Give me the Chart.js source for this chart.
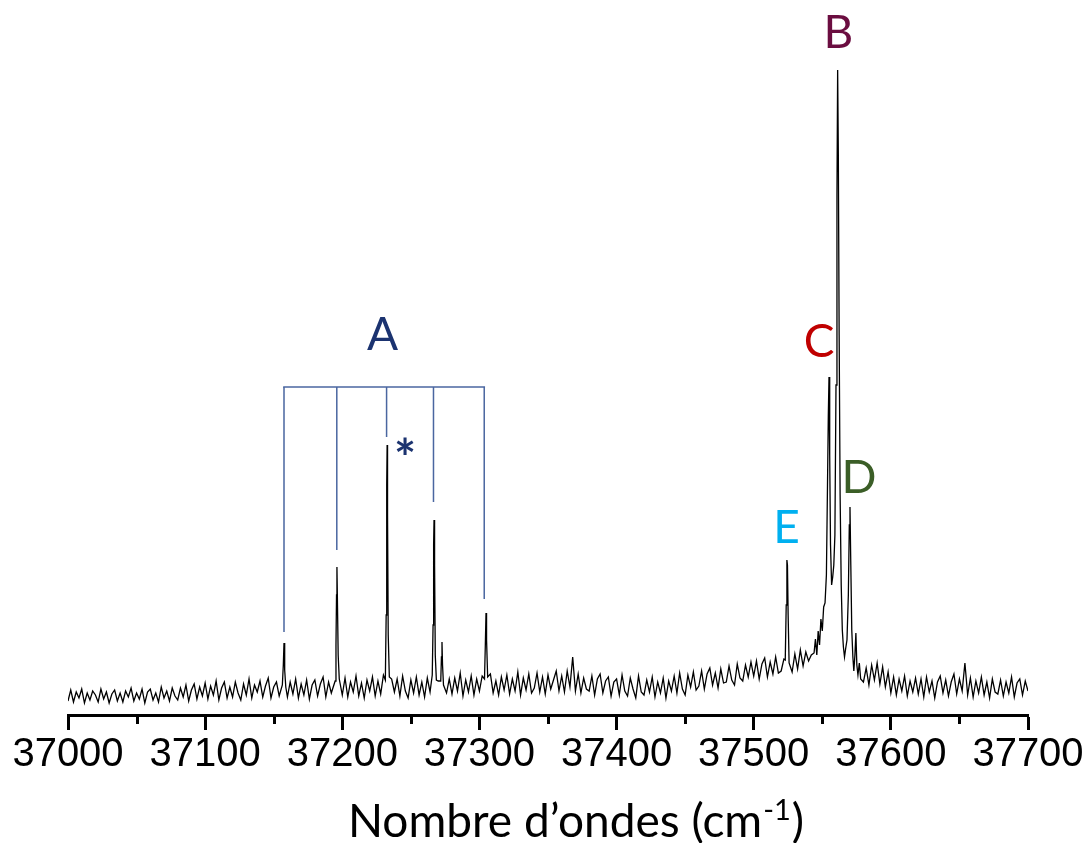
<!DOCTYPE html>
<html>
<head>
<meta charset="utf-8">
<script src="https://cdn.jsdelivr.net/npm/chart.js@4"></script>
<style>
  html, body { margin: 0; padding: 0; background: #fff; }
  #cadre { width: 1086px; height: 843px; position: relative; }
</style>
</head>
<body>
<div id="cadre"><canvas id="spectre"></canvas></div>
<script>
// grille reguliere du fond (cm-1), pas de 2
var baseDebut = 37000;
var basePas = 2;
var baseIntensite = [
  14, 25, 13, 23, 17, 26, 12, 22, 15, 24,
  20, 13, 26, 16, 23, 12, 21, 25, 14, 22,
  13, 24, 18, 27, 14, 22, 16, 26, 12, 23,
  26, 15, 22, 13, 28, 17, 24, 14, 27, 19,
  15, 27, 18, 30, 14, 25, 31, 16, 28, 19,
  32, 16, 29, 20, 34, 15, 27, 33, 17, 28,
  18, 33, 22, 15, 31, 20, 36, 17, 30, 23,
  34, 18, 29, 37, 17, 28, 33, 19, 30, 24,
  18, 33, 21, 36, 17, 31, 20, 35, 16, 30,
  35, 19, 31, 38, 18, 33, 22, 37, 20, 34,
  20, 37, 18, 33, 23, 39, 19, 32, 17, 35,
  24, 38, 19, 34, 21, 40, 22, 18, 36, 23,
  36, 19, 39, 24, 17, 35, 22, 38, 20, 33,
  18, 37, 23, 38, 21, 34, 19, 40, 22, 36,
  21, 37, 24, 42, 19, 35, 23, 39, 20, 36,
  24, 39, 19, 36, 41, 22, 34, 20, 38, 25,
  40, 21, 36, 24, 43, 20, 37, 25, 41, 22,
  27, 42, 23, 38, 21, 40, 26, 35, 44, 24,
  39, 23, 44, 28, 58, 24, 41, 22, 37, 26,
  24, 39, 20, 36, 41, 22, 34, 38, 19, 33,
  36, 20, 40, 24, 19, 37, 26, 17, 39, 23,
  20, 35, 23, 38, 18, 33, 22, 37, 17, 34,
  24, 39, 22, 42, 26, 20, 40, 28, 43, 25,
  29, 44, 26, 41, 47, 30, 42, 27, 46, 32,
  33, 49, 35, 30, 51, 37, 34, 50, 38, 53,
  39, 54, 36, 51, 57, 38, 53, 41, 58, 42,
  44, 56, 41, 58, 43, 61, 46, 65, 49, 63,
  54, 60, 62, 66, 76, 88, 118, 230, 170, 150,
  330, 380, 130, 60, 75, 208, 58, 60, 42, 40,
  33, 47, 30, 50, 35, 52, 31, 48, 28, 43,
  22, 38, 20, 36, 24, 39, 19, 34, 23, 37,
  21, 36, 18, 38, 23, 34, 17, 33, 39, 22,
  35, 19, 33, 41, 21, 36, 24, 52, 20, 37,
  18, 34, 22, 38, 20, 33, 17, 36, 23, 21,
  35, 19, 33, 22, 38, 18, 32, 36, 20, 34,
  24
];

// raies fines (A, E) et massif C / B / D
var picsNombreOndes = [
  37156.3, 37157.0, 37157.5, 37158.0, 37158.8,
  37194.8, 37195.4, 37195.8, 37196.1, 37196.5, 37197.0, 37197.8,
  37231.4, 37232.0, 37232.4, 37232.7, 37233.0, 37233.5, 37234.3,
  37265.6, 37266.2, 37266.6, 37266.9, 37267.3, 37267.8, 37268.6,
  37271.8, 37272.3, 37272.7, 37273.1, 37273.8,
  37303.7, 37304.3, 37304.8, 37305.2, 37306.0,
  37523.0, 37523.7, 37524.2, 37524.6, 37525.1, 37525.8,
  37544, 37545, 37546, 37547, 37548, 37549, 37550, 37551, 37552, 37553,
  37553.8, 37554.4, 37554.9, 37555.4, 37556, 37556.8, 37557.6, 37558.4, 37559.2,
  37560, 37560.7, 37561.2, 37561.7, 37562.3, 37563, 37563.8, 37564.6, 37565.4,
  37566.2, 37567, 37568, 37569, 37569.7, 37570.2, 37570.8, 37571.5, 37572.3,
  37573, 37573.8, 37574.5, 37575.2, 37576, 37577, 37578
];
var picsIntensite = [
  30, 50, 72, 45, 28,
  34, 70, 120, 148, 110, 60, 36,
  35, 100, 230, 270, 200, 80, 38,
  40, 90, 170, 195, 150, 60, 35,
  34, 58, 73, 50, 30,
  36, 70, 102, 75, 38,
  55, 110, 155, 150, 100, 52,
  62, 76, 60, 84, 70, 96, 84, 108, 112, 140,
  230, 300, 338, 260, 170, 130, 138, 150, 180,
  330, 520, 645, 560, 380, 220, 130, 85, 68,
  58, 66, 75, 120, 190, 208, 150, 85, 58,
  44, 60, 82, 50, 40, 52, 36
];

// peigne de la progression A
var peigneX = [37157.5, 37196, 37232.3, 37266.5, 37303.5];
var peigneBas = [83, 165, 278, 213, 116];
var peigneHaut = 328;

var graduationsMineures = [37050, 37150, 37250, 37350, 37450, 37550, 37650];

var etiquettes = [
  { texte: "A", x: 37229.3, y: 365, couleur: "#1b3370" },
  { texte: "B", x: 37561.8, y: 667, couleur: "#6b0d40" },
  { texte: "C", x: 37547.6, y: 358, couleur: "#c00000" },
  { texte: "D", x: 37576.8, y: 222, couleur: "#3b5e27" },
  { texte: "E", x: 37523.9, y: 172, couleur: "#00b0f0" }
];

var points = [];
baseIntensite.forEach((v, i) => {
  var x = baseDebut + i * basePas;
  if (!picsNombreOndes.some(p => Math.abs(p - x) < 1)) points.push({ x: x, y: v });
});
picsNombreOndes.forEach((x, i) => points.push({ x: x, y: picsIntensite[i] }));
points.sort((a, b) => a.x - b.x);

var peigneVertical = [];
peigneX.forEach((x, i) => {
  peigneVertical.push({ x: x, y: peigneHaut }, { x: x, y: peigneBas[i] }, { x: x, y: null });
});

var decor = {
  id: "decor",
  afterDraw(chart) {
    var ctx = chart.ctx;
    var sx = chart.scales.x;
    var sy = chart.scales.y;
    var bas = chart.chartArea.bottom;
    ctx.save();
    // graduations mineures
    ctx.strokeStyle = "#000";
    ctx.lineWidth = 3;
    graduationsMineures.forEach(v => {
      var px = Math.round(sx.getPixelForValue(v)) + 0.5;
      ctx.beginPath();
      ctx.moveTo(px, bas);
      ctx.lineTo(px, bas + 9);
      ctx.stroke();
    });
    // lettres
    ctx.textAlign = "center";
    ctx.textBaseline = "alphabetic";
    ctx.font = "46px Lato";
    etiquettes.forEach(e => {
      ctx.fillStyle = e.couleur;
      ctx.fillText(e.texte, sx.getPixelForValue(e.x), sy.getPixelForValue(e.y));
    });
    ctx.fillStyle = "#1b3370";
    ctx.font = "bold 52px Lato";
    ctx.textBaseline = "middle";
    ctx.fillText("*", sx.getPixelForValue(37245.7), sy.getPixelForValue(265) + 10);
    // titre de l'axe
    ctx.fillStyle = "#000";
    ctx.textBaseline = "alphabetic";
    var t1 = "Nombre d\u2019ondes (cm";
    var t2 = "-1";
    var t3 = ")";
    ctx.font = "46px Lato";
    var w1 = ctx.measureText(t1).width;
    var w3 = ctx.measureText(t3).width;
    ctx.font = "29px Lato";
    var w2 = ctx.measureText(t2).width;
    var x0 = 575 - (w1 + w2 + w3) / 2;
    var yb = 837;
    ctx.font = "46px Lato";
    ctx.textAlign = "left";
    ctx.fillText(t1, x0, yb);
    ctx.font = "29px Lato";
    ctx.fillText(t2, x0 + w1 + 1, yb - 17);
    ctx.font = "46px Lato";
    ctx.fillText(t3, x0 + w1 + w2 + 2, yb);
    ctx.restore();
  }
};

new Chart(document.getElementById("spectre"), {
  type: "line",
  data: {
    datasets: [
      {
        data: points,
        borderColor: "#000",
        borderWidth: 1.3,
        pointRadius: 0,
        tension: 0
      },
      {
        data: [{ x: peigneX[0] - 0.6, y: peigneHaut }, { x: peigneX[peigneX.length - 1] + 0.6, y: peigneHaut }],
        borderColor: "#4a66a0",
        borderWidth: 1.5,
        pointRadius: 0
      },
      {
        data: peigneVertical,
        borderColor: "#4a66a0",
        borderWidth: 1.5,
        pointRadius: 0,
        spanGaps: false
      }
    ]
  },
  options: {
    responsive: true,
    maintainAspectRatio: false,
    animation: false,
    layout: { padding: { left: 68, right: 58, top: 10, bottom: 63 } },
    plugins: { legend: { display: false }, tooltip: { enabled: false } },
    scales: {
      x: {
        type: "linear",
        min: 37000,
        max: 37700,
        border: { display: true, color: "#000", width: 3 },
        grid: { drawOnChartArea: false, drawTicks: true, tickLength: 15, tickWidth: 3, tickColor: "#000" },
        ticks: {
          stepSize: 100,
          padding: 1,
          color: "#000",
          font: { family: "'Liberation Sans', Arial, sans-serif", size: 40 },
          maxRotation: 0,
          callback: v => String(v)
        }
      },
      y: { display: false, min: 0, max: 705 }
    }
  },
  plugins: [decor]
});
</script>
</body>
</html>
